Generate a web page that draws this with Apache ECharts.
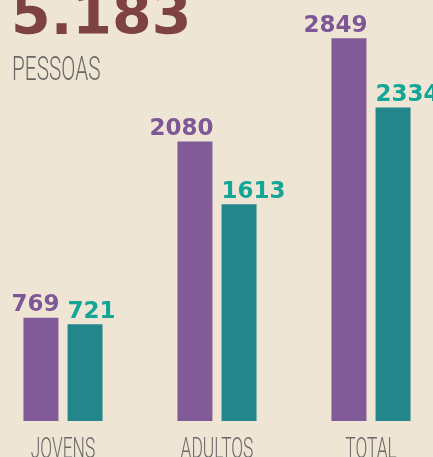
<!DOCTYPE html>
<html>
<head>
<meta charset="utf-8">
<script src="https://cdn.jsdelivr.net/npm/echarts@6/dist/echarts.min.js"></script>
<style>
  html, body { margin: 0; padding: 0; background: #efe5d5; overflow: hidden; }
  /* the plot is a bit wider than the window: the outer bars sit near the edges */
  #chart { width: 462px; height: 457px; margin-left: -14px; }
</style>
</head>
<body>
<div id="chart"></div>
<script>
// dados
const categorias = ['JOVENS', 'ADULTOS', 'TOTAL'];
const roxo = [769, 2080, 2849];
const verde = [721, 1613, 2334];
const totalPessoas = '5.183';
const subtitulo = 'PESSOAS';

const OFFSET = 14; // compensates the negative css margin
const BAR_W = 35;
const chart = echarts.init(document.getElementById('chart'));

// purple numbers end at the bar's right edge, teal ones start at the left edge
const labelStyle = (color, align) => ({
  show: true,
  position: 'top',
  distance: 1,
  align: align,
  offset: [align === 'right' ? BAR_W / 2 + 1 : -BAR_W / 2, 0],
  color: color,
  fontFamily: 'DejaVu Sans',
  fontWeight: 'bold',
  fontSize: 23
});

chart.setOption({
  backgroundColor: '#efe5d5',
  animation: false,
  grid: { left: 0, right: 0, top: 18, bottom: 36 },
  xAxis: {
    type: 'category',
    data: categorias,
    axisLine: { show: false },
    axisTick: { show: false },
    axisLabel: { show: false }
  },
  yAxis: {
    type: 'value',
    min: 0,
    max: 3000,
    show: false,
    splitLine: { show: false }
  },
  series: [
    {
      type: 'bar',
      data: roxo,
      barWidth: BAR_W,
      barGap: '26%',
      itemStyle: { color: '#805b98' },
      label: labelStyle('#7e5796', 'right')
    },
    {
      type: 'bar',
      data: verde,
      barWidth: BAR_W,
      itemStyle: { color: '#23868a' },
      label: labelStyle('#13a596', 'left')
    }
  ]
});

// thin condensed texts: drawn as graphic text squeezed horizontally
const baseY = chart.convertToPixel({ yAxisIndex: 0 }, 0);
const catLabels = categorias.map((c) => ({
  type: 'text',
  x: chart.convertToPixel({ xAxisIndex: 0 }, c),
  y: baseY + 14,
  scaleX: 0.58,
  style: {
    text: c,
    fill: '#6b6966',
    font: '300 30px Roboto',
    align: 'center',
    verticalAlign: 'top'
  }
}));

chart.setOption({
  graphic: [
    {
      type: 'text',
      x: OFFSET + 11,
      y: 48,
      style: {
        text: totalPessoas,
        fill: '#7e4245',
        font: 'bold 57px "DejaVu Sans"',
        verticalAlign: 'bottom'
      }
    },
    {
      type: 'text',
      x: OFFSET + 12,
      y: 55,
      scaleX: 0.63,
      style: {
        text: subtitulo,
        fill: '#6b6966',
        font: '300 33px Roboto'
      }
    }
  ].concat(catLabels)
});
</script>
</body>
</html>
